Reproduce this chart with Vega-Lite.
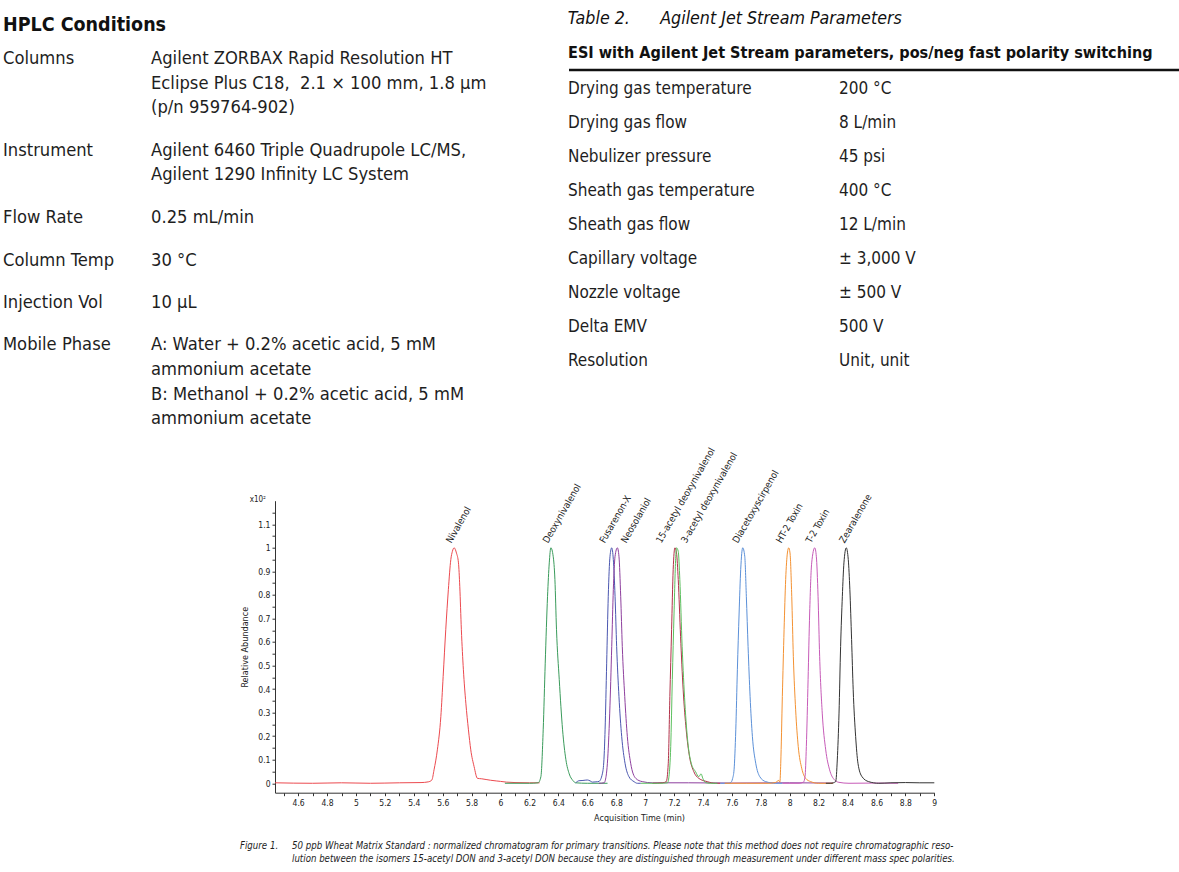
{
  "$schema": "https://vega.github.io/schema/vega-lite/v6.json",
  "background": "white",
  "padding": {"left": 3, "top": 10, "right": 0, "bottom": 0},
  "config": {
    "view": {"stroke": null},
    "font": "DejaVu Sans Condensed, Liberation Sans, sans-serif",
    "text": {"font": "DejaVu Sans Condensed, Liberation Sans, sans-serif", "color": "#1e1e1e"},
    "title": {"font": "DejaVu Sans Condensed, Liberation Sans, sans-serif", "color": "#111111"},
    "axis": {"labelFont": "DejaVu Sans Condensed, Liberation Sans, sans-serif", "titleFont": "DejaVu Sans Condensed, Liberation Sans, sans-serif", "labelOverlap": false}
  },
  "datasets": {
    "hplc": [
      {"field": "Columns", "col": "k", "line": 1, "text": "Columns"},
      {"field": "Columns", "col": "v", "line": 1, "text": "Agilent ZORBAX Rapid Resolution HT"},
      {"field": "Columns", "col": "v", "line": 2, "text": "Eclipse Plus C18,\u00a0 2.1 × 100 mm, 1.8 µm"},
      {"field": "Columns", "col": "v", "line": 3, "text": "(p/n 959764-902)"},
      {"field": "Instrument", "col": "k", "line": 1, "text": "Instrument"},
      {"field": "Instrument", "col": "v", "line": 1, "text": "Agilent 6460 Triple Quadrupole LC/MS,"},
      {"field": "Instrument", "col": "v", "line": 2, "text": "Agilent 1290 Infinity LC System"},
      {"field": "Flow Rate", "col": "k", "line": 1, "text": "Flow Rate"},
      {"field": "Flow Rate", "col": "v", "line": 1, "text": "0.25 mL/min"},
      {"field": "Column Temp", "col": "k", "line": 1, "text": "Column Temp"},
      {"field": "Column Temp", "col": "v", "line": 1, "text": "30 °C"},
      {"field": "Injection Vol", "col": "k", "line": 1, "text": "Injection Vol"},
      {"field": "Injection Vol", "col": "v", "line": 1, "text": "10 µL"},
      {"field": "Mobile Phase", "col": "k", "line": 1, "text": "Mobile Phase"},
      {"field": "Mobile Phase", "col": "v", "line": 1, "text": "A: Water + 0.2% acetic acid, 5 mM"},
      {"field": "Mobile Phase", "col": "v", "line": 2, "text": "ammonium acetate"},
      {"field": "Mobile Phase", "col": "v", "line": 3, "text": "B: Methanol + 0.2% acetic acid, 5 mM"},
      {"field": "Mobile Phase", "col": "v", "line": 4, "text": "ammonium acetate"}
    ],
    "jet": [
      {"row": 0, "col": "k", "text": "ESI with Agilent Jet Stream parameters, pos/neg fast polarity switching"},
      {"row": 1, "col": "k", "text": "Drying gas temperature"}, {"row": 1, "col": "v", "text": "200 °C"},
      {"row": 2, "col": "k", "text": "Drying gas flow"}, {"row": 2, "col": "v", "text": "8 L/min"},
      {"row": 3, "col": "k", "text": "Nebulizer pressure"}, {"row": 3, "col": "v", "text": "45 psi"},
      {"row": 4, "col": "k", "text": "Sheath gas temperature"}, {"row": 4, "col": "v", "text": "400 °C"},
      {"row": 5, "col": "k", "text": "Sheath gas flow"}, {"row": 5, "col": "v", "text": "12 L/min"},
      {"row": 6, "col": "k", "text": "Capillary voltage"}, {"row": 6, "col": "v", "text": "± 3,000 V"},
      {"row": 7, "col": "k", "text": "Nozzle voltage"}, {"row": 7, "col": "v", "text": "± 500 V"},
      {"row": 8, "col": "k", "text": "Delta EMV"}, {"row": 8, "col": "v", "text": "500 V"},
      {"row": 9, "col": "k", "text": "Resolution"}, {"row": 9, "col": "v", "text": "Unit, unit"}
    ],
    "caption": [
      {"col": "k", "line": 1, "text": "Figure 1."},
      {"col": "v", "line": 1, "text": "50 ppb Wheat Matrix Standard : normalized chromatogram for primary transitions. Please note that this method does not require chromatographic reso-"},
      {"col": "v", "line": 2, "text": "lution between the isomers 15-acetyl DON and 3-acetyl DON because they are distinguished through measurement under different mass spec polarities."}
    ],
    "peaks": [
      {"compound": "Nivalenol", "at": 5.679},
      {"compound": "Deoxynivalenol", "at": 6.348},
      {"compound": "Fusarenon-X", "at": 6.74},
      {"compound": "Neosolaniol", "at": 6.889},
      {"compound": "15-acetyl deoxynivalenol", "at": 7.131},
      {"compound": "3-acetyl deoxynivalenol", "at": 7.304},
      {"compound": "Diacetoxyscirpenol", "at": 7.661},
      {"compound": "HT-2 Toxin", "at": 7.961},
      {"compound": "T-2 Toxin", "at": 8.168},
      {"compound": "Zearalenone", "at": 8.399}
    ],
    "trace": [
      {"compound": "Nivalenol", "t": 4.44, "v": 0.002}, {"compound": "Nivalenol", "t": 4.7, "v": 0.0}, {"compound": "Nivalenol", "t": 4.9, "v": 0.002}, {"compound": "Nivalenol", "t": 5.1, "v": 0.0}, {"compound": "Nivalenol", "t": 5.3, "v": 0.002}, {"compound": "Nivalenol", "t": 5.45, "v": 0.003}, {"compound": "Nivalenol", "t": 5.5, "v": 0.006}, {"compound": "Nivalenol", "t": 5.525, "v": 0.014}, {"compound": "Nivalenol", "t": 5.54, "v": 0.057}, {"compound": "Nivalenol", "t": 5.563, "v": 0.142}, {"compound": "Nivalenol", "t": 5.587, "v": 0.283}, {"compound": "Nivalenol", "t": 5.603, "v": 0.453}, {"compound": "Nivalenol", "t": 5.621, "v": 0.652}, {"compound": "Nivalenol", "t": 5.639, "v": 0.822}, {"compound": "Nivalenol", "t": 5.656, "v": 0.95}, {"compound": "Nivalenol", "t": 5.667, "v": 0.985}, {"compound": "Nivalenol", "t": 5.679, "v": 1.0}, {"compound": "Nivalenol", "t": 5.695, "v": 0.978}, {"compound": "Nivalenol", "t": 5.709, "v": 0.936}, {"compound": "Nivalenol", "t": 5.718, "v": 0.836}, {"compound": "Nivalenol", "t": 5.729, "v": 0.652}, {"compound": "Nivalenol", "t": 5.743, "v": 0.482}, {"compound": "Nivalenol", "t": 5.76, "v": 0.34}, {"compound": "Nivalenol", "t": 5.778, "v": 0.227}, {"compound": "Nivalenol", "t": 5.794, "v": 0.142}, {"compound": "Nivalenol", "t": 5.817, "v": 0.071}, {"compound": "Nivalenol", "t": 5.84, "v": 0.021}, {"compound": "Nivalenol", "t": 5.87, "v": 0.019}, {"compound": "Nivalenol", "t": 5.9, "v": 0.016}, {"compound": "Nivalenol", "t": 5.93, "v": 0.013}, {"compound": "Nivalenol", "t": 5.97, "v": 0.01}, {"compound": "Nivalenol", "t": 6.0, "v": 0.008}, {"compound": "Nivalenol", "t": 6.04, "v": 0.005}, {"compound": "Nivalenol", "t": 6.1, "v": 0.003}, {"compound": "Nivalenol", "t": 6.2, "v": 0.002}, {"compound": "Nivalenol", "t": 6.27, "v": 0.002},
      {"compound": "Deoxynivalenol", "t": 6.03, "v": 0.0}, {"compound": "Deoxynivalenol", "t": 6.1, "v": 0.0}, {"compound": "Deoxynivalenol", "t": 6.2, "v": 0.0}, {"compound": "Deoxynivalenol", "t": 6.26, "v": 0.002}, {"compound": "Deoxynivalenol", "t": 6.279, "v": 0.028}, {"compound": "Deoxynivalenol", "t": 6.295, "v": 0.227}, {"compound": "Deoxynivalenol", "t": 6.309, "v": 0.51}, {"compound": "Deoxynivalenol", "t": 6.325, "v": 0.794}, {"compound": "Deoxynivalenol", "t": 6.337, "v": 0.936}, {"compound": "Deoxynivalenol", "t": 6.348, "v": 1.0}, {"compound": "Deoxynivalenol", "t": 6.364, "v": 0.964}, {"compound": "Deoxynivalenol", "t": 6.376, "v": 0.865}, {"compound": "Deoxynivalenol", "t": 6.387, "v": 0.652}, {"compound": "Deoxynivalenol", "t": 6.406, "v": 0.44}, {"compound": "Deoxynivalenol", "t": 6.429, "v": 0.227}, {"compound": "Deoxynivalenol", "t": 6.452, "v": 0.1}, {"compound": "Deoxynivalenol", "t": 6.475, "v": 0.04}, {"compound": "Deoxynivalenol", "t": 6.5, "v": 0.012}, {"compound": "Deoxynivalenol", "t": 6.52, "v": 0.002}, {"compound": "Deoxynivalenol", "t": 6.6, "v": 0.0}, {"compound": "Deoxynivalenol", "t": 6.74, "v": 0.0},
      {"compound": "Fusarenon-X", "t": 6.52, "v": 0.002}, {"compound": "Fusarenon-X", "t": 6.543, "v": 0.011}, {"compound": "Fusarenon-X", "t": 6.57, "v": 0.012}, {"compound": "Fusarenon-X", "t": 6.6, "v": 0.014}, {"compound": "Fusarenon-X", "t": 6.62, "v": 0.01}, {"compound": "Fusarenon-X", "t": 6.635, "v": 0.005}, {"compound": "Fusarenon-X", "t": 6.66, "v": 0.006}, {"compound": "Fusarenon-X", "t": 6.681, "v": 0.008}, {"compound": "Fusarenon-X", "t": 6.704, "v": 0.04}, {"compound": "Fusarenon-X", "t": 6.715, "v": 0.1}, {"compound": "Fusarenon-X", "t": 6.723, "v": 0.227}, {"compound": "Fusarenon-X", "t": 6.734, "v": 0.51}, {"compound": "Fusarenon-X", "t": 6.745, "v": 0.794}, {"compound": "Fusarenon-X", "t": 6.757, "v": 0.964}, {"compound": "Fusarenon-X", "t": 6.769, "v": 1.0}, {"compound": "Fusarenon-X", "t": 6.78, "v": 0.95}, {"compound": "Fusarenon-X", "t": 6.792, "v": 0.794}, {"compound": "Fusarenon-X", "t": 6.803, "v": 0.581}, {"compound": "Fusarenon-X", "t": 6.819, "v": 0.368}, {"compound": "Fusarenon-X", "t": 6.838, "v": 0.198}, {"compound": "Fusarenon-X", "t": 6.861, "v": 0.085}, {"compound": "Fusarenon-X", "t": 6.888, "v": 0.028}, {"compound": "Fusarenon-X", "t": 6.923, "v": 0.007}, {"compound": "Fusarenon-X", "t": 6.946, "v": 0.0}, {"compound": "Fusarenon-X", "t": 6.97, "v": 0.0},
      {"compound": "Neosolaniol", "t": 6.68, "v": 0.0}, {"compound": "Neosolaniol", "t": 6.716, "v": 0.002}, {"compound": "Neosolaniol", "t": 6.73, "v": 0.03}, {"compound": "Neosolaniol", "t": 6.739, "v": 0.085}, {"compound": "Neosolaniol", "t": 6.755, "v": 0.298}, {"compound": "Neosolaniol", "t": 6.769, "v": 0.581}, {"compound": "Neosolaniol", "t": 6.78, "v": 0.822}, {"compound": "Neosolaniol", "t": 6.792, "v": 0.964}, {"compound": "Neosolaniol", "t": 6.808, "v": 1.0}, {"compound": "Neosolaniol", "t": 6.819, "v": 0.964}, {"compound": "Neosolaniol", "t": 6.831, "v": 0.794}, {"compound": "Neosolaniol", "t": 6.842, "v": 0.581}, {"compound": "Neosolaniol", "t": 6.859, "v": 0.368}, {"compound": "Neosolaniol", "t": 6.877, "v": 0.198}, {"compound": "Neosolaniol", "t": 6.9, "v": 0.085}, {"compound": "Neosolaniol", "t": 6.935, "v": 0.021}, {"compound": "Neosolaniol", "t": 6.98, "v": 0.007}, {"compound": "Neosolaniol", "t": 7.05, "v": 0.002}, {"compound": "Neosolaniol", "t": 7.3, "v": 0.002}, {"compound": "Neosolaniol", "t": 7.6, "v": 0.001}, {"compound": "Neosolaniol", "t": 8.0, "v": 0.002}, {"compound": "Neosolaniol", "t": 8.3, "v": 0.001},
      {"compound": "15-acetyl deoxynivalenol", "t": 7.05, "v": 0.0}, {"compound": "15-acetyl deoxynivalenol", "t": 7.12, "v": 0.002}, {"compound": "15-acetyl deoxynivalenol", "t": 7.146, "v": 0.007}, {"compound": "15-acetyl deoxynivalenol", "t": 7.16, "v": 0.085}, {"compound": "15-acetyl deoxynivalenol", "t": 7.171, "v": 0.368}, {"compound": "15-acetyl deoxynivalenol", "t": 7.183, "v": 0.652}, {"compound": "15-acetyl deoxynivalenol", "t": 7.194, "v": 0.907}, {"compound": "15-acetyl deoxynivalenol", "t": 7.206, "v": 1.0}, {"compound": "15-acetyl deoxynivalenol", "t": 7.217, "v": 0.978}, {"compound": "15-acetyl deoxynivalenol", "t": 7.229, "v": 0.865}, {"compound": "15-acetyl deoxynivalenol", "t": 7.245, "v": 0.624}, {"compound": "15-acetyl deoxynivalenol", "t": 7.263, "v": 0.397}, {"compound": "15-acetyl deoxynivalenol", "t": 7.284, "v": 0.227}, {"compound": "15-acetyl deoxynivalenol", "t": 7.307, "v": 0.113}, {"compound": "15-acetyl deoxynivalenol", "t": 7.337, "v": 0.049}, {"compound": "15-acetyl deoxynivalenol", "t": 7.371, "v": 0.021}, {"compound": "15-acetyl deoxynivalenol", "t": 7.429, "v": 0.007}, {"compound": "15-acetyl deoxynivalenol", "t": 7.486, "v": 0.0}, {"compound": "15-acetyl deoxynivalenol", "t": 7.52, "v": 0.0},
      {"compound": "3-acetyl deoxynivalenol", "t": 6.97, "v": 0.0}, {"compound": "3-acetyl deoxynivalenol", "t": 7.1, "v": 0.0}, {"compound": "3-acetyl deoxynivalenol", "t": 7.155, "v": 0.002}, {"compound": "3-acetyl deoxynivalenol", "t": 7.165, "v": 0.03}, {"compound": "3-acetyl deoxynivalenol", "t": 7.177, "v": 0.156}, {"compound": "3-acetyl deoxynivalenol", "t": 7.188, "v": 0.44}, {"compound": "3-acetyl deoxynivalenol", "t": 7.2, "v": 0.723}, {"compound": "3-acetyl deoxynivalenol", "t": 7.212, "v": 0.964}, {"compound": "3-acetyl deoxynivalenol", "t": 7.217, "v": 1.0}, {"compound": "3-acetyl deoxynivalenol", "t": 7.229, "v": 0.985}, {"compound": "3-acetyl deoxynivalenol", "t": 7.24, "v": 0.865}, {"compound": "3-acetyl deoxynivalenol", "t": 7.256, "v": 0.581}, {"compound": "3-acetyl deoxynivalenol", "t": 7.275, "v": 0.34}, {"compound": "3-acetyl deoxynivalenol", "t": 7.296, "v": 0.17}, {"compound": "3-acetyl deoxynivalenol", "t": 7.319, "v": 0.085}, {"compound": "3-acetyl deoxynivalenol", "t": 7.349, "v": 0.049}, {"compound": "3-acetyl deoxynivalenol", "t": 7.371, "v": 0.028}, {"compound": "3-acetyl deoxynivalenol", "t": 7.387, "v": 0.04}, {"compound": "3-acetyl deoxynivalenol", "t": 7.399, "v": 0.021}, {"compound": "3-acetyl deoxynivalenol", "t": 7.417, "v": 0.003}, {"compound": "3-acetyl deoxynivalenol", "t": 7.45, "v": 0.0}, {"compound": "3-acetyl deoxynivalenol", "t": 7.5, "v": 0.0},
      {"compound": "Diacetoxyscirpenol", "t": 7.52, "v": 0.0}, {"compound": "Diacetoxyscirpenol", "t": 7.58, "v": 0.0}, {"compound": "Diacetoxyscirpenol", "t": 7.592, "v": 0.003}, {"compound": "Diacetoxyscirpenol", "t": 7.605, "v": 0.02}, {"compound": "Diacetoxyscirpenol", "t": 7.615, "v": 0.057}, {"compound": "Diacetoxyscirpenol", "t": 7.627, "v": 0.227}, {"compound": "Diacetoxyscirpenol", "t": 7.638, "v": 0.482}, {"compound": "Diacetoxyscirpenol", "t": 7.65, "v": 0.723}, {"compound": "Diacetoxyscirpenol", "t": 7.661, "v": 0.907}, {"compound": "Diacetoxyscirpenol", "t": 7.675, "v": 1.0}, {"compound": "Diacetoxyscirpenol", "t": 7.689, "v": 0.964}, {"compound": "Diacetoxyscirpenol", "t": 7.7, "v": 0.794}, {"compound": "Diacetoxyscirpenol", "t": 7.712, "v": 0.581}, {"compound": "Diacetoxyscirpenol", "t": 7.726, "v": 0.368}, {"compound": "Diacetoxyscirpenol", "t": 7.742, "v": 0.198}, {"compound": "Diacetoxyscirpenol", "t": 7.765, "v": 0.085}, {"compound": "Diacetoxyscirpenol", "t": 7.793, "v": 0.028}, {"compound": "Diacetoxyscirpenol", "t": 7.834, "v": 0.007}, {"compound": "Diacetoxyscirpenol", "t": 7.904, "v": 0.0}, {"compound": "Diacetoxyscirpenol", "t": 7.95, "v": 0.0},
      {"compound": "HT-2 Toxin", "t": 7.55, "v": 0.0}, {"compound": "HT-2 Toxin", "t": 7.7, "v": 0.0}, {"compound": "HT-2 Toxin", "t": 7.85, "v": 0.0}, {"compound": "HT-2 Toxin", "t": 7.9, "v": 0.003}, {"compound": "HT-2 Toxin", "t": 7.925, "v": 0.012}, {"compound": "HT-2 Toxin", "t": 7.932, "v": 0.005}, {"compound": "HT-2 Toxin", "t": 7.938, "v": 0.085}, {"compound": "HT-2 Toxin", "t": 7.949, "v": 0.368}, {"compound": "HT-2 Toxin", "t": 7.961, "v": 0.652}, {"compound": "HT-2 Toxin", "t": 7.972, "v": 0.865}, {"compound": "HT-2 Toxin", "t": 7.984, "v": 0.978}, {"compound": "HT-2 Toxin", "t": 7.993, "v": 1.0}, {"compound": "HT-2 Toxin", "t": 8.002, "v": 0.978}, {"compound": "HT-2 Toxin", "t": 8.014, "v": 0.794}, {"compound": "HT-2 Toxin", "t": 8.025, "v": 0.539}, {"compound": "HT-2 Toxin", "t": 8.041, "v": 0.312}, {"compound": "HT-2 Toxin", "t": 8.059, "v": 0.156}, {"compound": "HT-2 Toxin", "t": 8.083, "v": 0.064}, {"compound": "HT-2 Toxin", "t": 8.11, "v": 0.021}, {"compound": "HT-2 Toxin", "t": 8.145, "v": 0.007}, {"compound": "HT-2 Toxin", "t": 8.2, "v": 0.0}, {"compound": "HT-2 Toxin", "t": 8.3, "v": 0.0},
      {"compound": "T-2 Toxin", "t": 7.95, "v": 0.0}, {"compound": "T-2 Toxin", "t": 8.064, "v": 0.0}, {"compound": "T-2 Toxin", "t": 8.095, "v": 0.005}, {"compound": "T-2 Toxin", "t": 8.106, "v": 0.028}, {"compound": "T-2 Toxin", "t": 8.115, "v": 0.156}, {"compound": "T-2 Toxin", "t": 8.127, "v": 0.44}, {"compound": "T-2 Toxin", "t": 8.138, "v": 0.723}, {"compound": "T-2 Toxin", "t": 8.152, "v": 0.936}, {"compound": "T-2 Toxin", "t": 8.173, "v": 1.0}, {"compound": "T-2 Toxin", "t": 8.184, "v": 0.964}, {"compound": "T-2 Toxin", "t": 8.196, "v": 0.794}, {"compound": "T-2 Toxin", "t": 8.207, "v": 0.539}, {"compound": "T-2 Toxin", "t": 8.225, "v": 0.298}, {"compound": "T-2 Toxin", "t": 8.249, "v": 0.142}, {"compound": "T-2 Toxin", "t": 8.276, "v": 0.057}, {"compound": "T-2 Toxin", "t": 8.306, "v": 0.017}, {"compound": "T-2 Toxin", "t": 8.34, "v": 0.004}, {"compound": "T-2 Toxin", "t": 8.41, "v": 0.0}, {"compound": "T-2 Toxin", "t": 8.6, "v": 0.001}, {"compound": "T-2 Toxin", "t": 8.75, "v": 0.0},
      {"compound": "Zearalenone", "t": 8.25, "v": 0.0}, {"compound": "Zearalenone", "t": 8.284, "v": 0.0}, {"compound": "Zearalenone", "t": 8.318, "v": 0.007}, {"compound": "Zearalenone", "t": 8.329, "v": 0.099}, {"compound": "Zearalenone", "t": 8.341, "v": 0.298}, {"compound": "Zearalenone", "t": 8.352, "v": 0.581}, {"compound": "Zearalenone", "t": 8.364, "v": 0.794}, {"compound": "Zearalenone", "t": 8.375, "v": 0.936}, {"compound": "Zearalenone", "t": 8.391, "v": 1.0}, {"compound": "Zearalenone", "t": 8.405, "v": 0.95}, {"compound": "Zearalenone", "t": 8.416, "v": 0.822}, {"compound": "Zearalenone", "t": 8.428, "v": 0.61}, {"compound": "Zearalenone", "t": 8.439, "v": 0.397}, {"compound": "Zearalenone", "t": 8.456, "v": 0.198}, {"compound": "Zearalenone", "t": 8.472, "v": 0.085}, {"compound": "Zearalenone", "t": 8.5, "v": 0.028}, {"compound": "Zearalenone", "t": 8.546, "v": 0.007}, {"compound": "Zearalenone", "t": 8.616, "v": 0.0}, {"compound": "Zearalenone", "t": 8.7, "v": 0.002}, {"compound": "Zearalenone", "t": 8.8, "v": 0.003}, {"compound": "Zearalenone", "t": 8.9, "v": 0.002}, {"compound": "Zearalenone", "t": 9.0, "v": 0.002}
    ]
  },
  "vconcat": [
    {
      "hconcat": [
        {
          "title": {"text": "HPLC Conditions", "anchor": "start", "fontSize": 19.5, "fontWeight": "bold", "offset": 1},
          "spacing": 17.4,
          "vconcat": [
            {"width": 490, "height": 84.4, "data": {"name": "hplc"}, "transform": [{"filter": "datum.field === 'Columns'"}],
             "mark": {"type": "text", "align": "left", "baseline": "middle", "fontSize": 18.2},
             "encoding": {"x": {"field": "col", "type": "nominal", "bandPosition": 0, "scale": {"type": "band", "domain": ["k", "v"], "paddingInner": 0, "paddingOuter": 0.655, "align": 0, "round": false}, "axis": null},
                          "y": {"field": "line", "type": "ordinal", "scale": {"type": "point", "padding": 0.7154, "align": 0.6506, "round": false}, "axis": null},
                          "text": {"field": "text"}}},
            {"width": 490, "height": 49.2, "data": {"name": "hplc"}, "transform": [{"filter": "datum.field === 'Instrument'"}],
             "mark": {"type": "text", "align": "left", "baseline": "middle", "fontSize": 18.2},
             "encoding": {"x": {"field": "col", "type": "nominal", "bandPosition": 0, "scale": {"type": "band", "domain": ["k", "v"], "paddingInner": 0, "paddingOuter": 0.655, "align": 0, "round": false}, "axis": null},
                          "y": {"field": "line", "type": "ordinal", "scale": {"type": "point", "padding": 0.5, "round": false}, "axis": null},
                          "text": {"field": "text"}}},
            {"width": 490, "height": 24.6, "data": {"name": "hplc"}, "transform": [{"filter": "datum.field === 'Flow Rate'"}],
             "mark": {"type": "text", "align": "left", "baseline": "middle", "fontSize": 18.2},
             "encoding": {"x": {"field": "col", "type": "nominal", "bandPosition": 0, "scale": {"type": "band", "domain": ["k", "v"], "paddingInner": 0, "paddingOuter": 0.655, "align": 0, "round": false}, "axis": null},
                          "y": {"field": "line", "type": "ordinal", "scale": {"type": "point", "padding": 0.5, "round": false}, "axis": null},
                          "text": {"field": "text"}}},
            {"width": 490, "height": 24.6, "data": {"name": "hplc"}, "transform": [{"filter": "datum.field === 'Column Temp'"}],
             "mark": {"type": "text", "align": "left", "baseline": "middle", "fontSize": 18.2},
             "encoding": {"x": {"field": "col", "type": "nominal", "bandPosition": 0, "scale": {"type": "band", "domain": ["k", "v"], "paddingInner": 0, "paddingOuter": 0.655, "align": 0, "round": false}, "axis": null},
                          "y": {"field": "line", "type": "ordinal", "scale": {"type": "point", "padding": 0.5, "round": false}, "axis": null},
                          "text": {"field": "text"}}},
            {"width": 490, "height": 24.6, "data": {"name": "hplc"}, "transform": [{"filter": "datum.field === 'Injection Vol'"}],
             "mark": {"type": "text", "align": "left", "baseline": "middle", "fontSize": 18.2},
             "encoding": {"x": {"field": "col", "type": "nominal", "bandPosition": 0, "scale": {"type": "band", "domain": ["k", "v"], "paddingInner": 0, "paddingOuter": 0.655, "align": 0, "round": false}, "axis": null},
                          "y": {"field": "line", "type": "ordinal", "scale": {"type": "point", "padding": 0.5, "round": false}, "axis": null},
                          "text": {"field": "text"}}},
            {"width": 490, "height": 98.4, "data": {"name": "hplc"}, "transform": [{"filter": "datum.field === 'Mobile Phase'"}],
             "mark": {"type": "text", "align": "left", "baseline": "middle", "fontSize": 18.2},
             "encoding": {"x": {"field": "col", "type": "nominal", "bandPosition": 0, "scale": {"type": "band", "domain": ["k", "v"], "paddingInner": 0, "paddingOuter": 0.655, "align": 0, "round": false}, "axis": null},
                          "y": {"field": "line", "type": "ordinal", "scale": {"type": "point", "padding": 0.5, "round": false}, "axis": null},
                          "text": {"field": "text"}}}
          ]
        },
        {
          "width": 612, "height": 340,
          "title": {"text": "Table 2.\u00a0\u00a0\u00a0\u00a0\u00a0\u00a0Agilent Jet Stream Parameters", "anchor": "start", "fontSize": 17.7, "fontStyle": "italic", "fontWeight": "normal", "offset": 8},
          "data": {"name": "jet"},
          "layer": [
            {"transform": [{"filter": "datum.row === 0"}],
             "mark": {"type": "text", "align": "left", "baseline": "middle", "fontSize": 16.1, "fontWeight": "bold", "dx": -1, "color": "#111111"},
             "encoding": {"x": {"field": "col", "type": "nominal", "bandPosition": 0, "scale": {"type": "band", "domain": ["k", "v"], "paddingInner": 0, "paddingOuter": 0.129, "align": 0, "round": false}, "axis": null},
                          "y": {"field": "row", "type": "ordinal", "scale": {"type": "band", "paddingInner": 0, "paddingOuter": 0, "round": false}, "axis": null},
                          "text": {"field": "text"}}},
            {"transform": [{"filter": "datum.row > 0"}],
             "mark": {"type": "text", "align": "left", "baseline": "middle", "fontSize": 17, "dx": -1, "dy": 1.5},
             "encoding": {"x": {"field": "col", "type": "nominal", "bandPosition": 0, "scale": {"type": "band", "domain": ["k", "v"], "paddingInner": 0, "paddingOuter": 0.129, "align": 0, "round": false}, "axis": null},
                          "y": {"field": "row", "type": "ordinal", "scale": {"type": "band", "paddingInner": 0, "paddingOuter": 0, "round": false}, "axis": null},
                          "text": {"field": "text"}}},
            {"transform": [{"filter": "datum.row === 0"}],
             "mark": {"type": "rule", "strokeWidth": 2.5, "color": "#111111"},
             "encoding": {"y": {"field": "row", "type": "ordinal", "bandPosition": 1, "scale": {"type": "band", "paddingInner": 0, "paddingOuter": 0, "round": false}, "axis": null}}}
          ]
        }
      ],
      "spacing": 74
    },
    {
      "hconcat": [
        {"width": 237, "height": 1, "data": {"values": []}, "mark": "point"},
        {
          "width": 659.3, "height": 292,
          "layer": [
            {
              "data": {"name": "trace"},
              "mark": {"type": "line", "strokeWidth": 1, "interpolate": "monotone"},
              "encoding": {
                "x": {"field": "t", "type": "quantitative",
                      "scale": {"domain": [4.44, 9.0], "nice": false, "zero": false},
                      "axis": {"title": "Acquisition Time (min)", "titleX": 364, "titleFontSize": 9, "titleFontWeight": "normal", "titleColor": "#222222", "titlePadding": 6,
                               "values": [4.5, 4.6, 4.7, 4.8, 4.9, 5.0, 5.1, 5.2, 5.3, 5.4, 5.5, 5.6, 5.7, 5.8, 5.9, 6.0, 6.1, 6.2, 6.3, 6.4, 6.5, 6.6, 6.7, 6.8, 6.9, 7.0, 7.1, 7.2, 7.3, 7.4, 7.5, 7.6, 7.7, 7.8, 7.9, 8.0, 8.1, 8.2, 8.3, 8.4, 8.5, 8.6, 8.7, 8.8, 8.9, 9.0],
                               "tickCount": 200,
                               "format": ".1~f", "labelExpr": "round(datum.value * 10) % 2 === 0 ? datum.label : ''",
                               "labelOverlap": false, "labelFlush": false, "labelFontSize": 8.5, "labelColor": "#222222", "labelPadding": 3,
                               "tickSize": 3, "tickColor": "#333333", "domainColor": "#333333", "grid": false}},
                "y": {"field": "v", "type": "quantitative",
                      "scale": {"domain": [-0.04, 1.2], "nice": false, "zero": false},
                      "axis": {"title": "Relative Abundance", "titleFontSize": 9, "titleFontWeight": "normal", "titleColor": "#222222", "titlePadding": 8.7,
                               "values": [0, 0.05, 0.1, 0.15, 0.2, 0.25, 0.3, 0.35, 0.4, 0.45, 0.5, 0.55, 0.6, 0.65, 0.7, 0.75, 0.8, 0.85, 0.9, 0.95, 1.0, 1.05, 1.1, 1.15],
                               "tickCount": 200,
                               "format": ".2~f", "labelExpr": "round(datum.value * 20) % 2 === 0 ? datum.label : ''",
                               "labelOverlap": false, "labelFlush": false, "labelFontSize": 8.5, "labelColor": "#222222", "labelPadding": 2,
                               "tickSize": 3, "tickColor": "#333333", "domainColor": "#333333", "grid": false}},
                "color": {"field": "compound", "type": "nominal", "legend": null,
                          "scale": {"domain": ["Nivalenol", "Deoxynivalenol", "Fusarenon-X", "Neosolaniol", "15-acetyl deoxynivalenol", "3-acetyl deoxynivalenol", "Diacetoxyscirpenol", "HT-2 Toxin", "T-2 Toxin", "Zearalenone"],
                                    "range": ["#ec4a4f", "#3a9b5b", "#4b57b0", "#8e3f9e", "#b3324a", "#5cc05f", "#5b90d8", "#f49233", "#c75bb8", "#333333"]}}
              }
            },
            {
              "data": {"name": "peaks"},
              "mark": {"type": "text", "angle": 300, "align": "left", "baseline": "alphabetic", "dx": 2, "dy": -4.5, "fontSize": 9.6, "color": "#1e1e1e"},
              "encoding": {
                "x": {"field": "at", "type": "quantitative"},
                "y": {"datum": 1, "type": "quantitative"},
                "text": {"field": "compound"}
              }
            },
            {
              "data": {"values": [{"label": "x10²"}]},
              "mark": {"type": "text", "align": "right", "baseline": "middle", "dx": -9, "dy": -1, "fontSize": 8, "color": "#222222"},
              "encoding": {
                "x": {"datum": 4.44, "type": "quantitative"},
                "y": {"datum": 1.2, "type": "quantitative"},
                "text": {"field": "label"}
              }
            }
          ]
        }
      ],
      "spacing": 0
    },
    {
      "hconcat": [
        {"width": 237, "height": 1, "data": {"values": []}, "mark": "point"},
        {
          "width": 208, "height": 29.1,
          "data": {"name": "caption"},
          "mark": {"type": "text", "align": "left", "baseline": "middle", "fontSize": 9.6, "fontStyle": "italic"},
          "encoding": {
            "x": {"field": "col", "type": "nominal", "bandPosition": 0, "scale": {"type": "band", "domain": ["k", "v"], "paddingInner": 0, "paddingOuter": 1, "align": 0, "round": false}, "axis": null},
            "y": {"field": "line", "type": "ordinal", "scale": {"type": "point", "padding": 0.619, "align": 0.596, "round": false}, "axis": null},
            "text": {"field": "text"}
          }
        }
      ],
      "spacing": 0
    }
  ],
  "spacing": 13.7
}
